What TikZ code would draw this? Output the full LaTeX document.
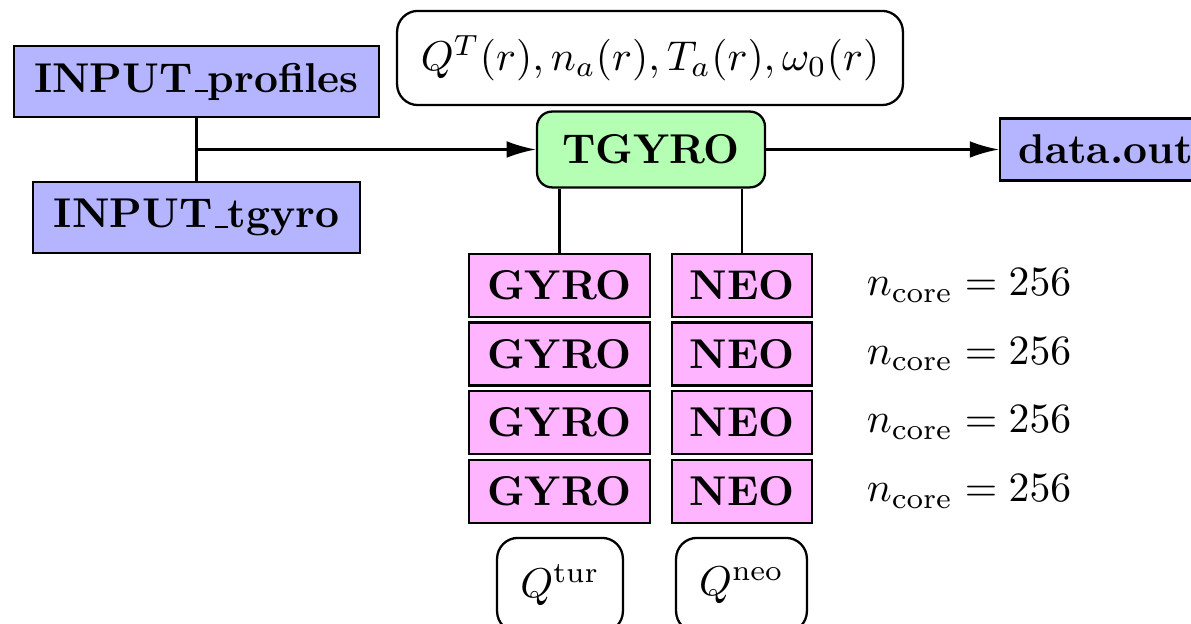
\documentclass[tikz,border=0pt]{standalone}
\usetikzlibrary{arrows.meta}
\newcommand\usc{\leavevmode\kern.06em\vbox{\hrule width.3em height .5pt}}
\definecolor{inblue}{RGB}{180,180,255}
\definecolor{tgreen}{RGB}{180,255,180}
\definecolor{cpink}{RGB}{255,180,255}
\begin{document}
\begin{tikzpicture}[x=0.24pt,y=-0.24pt,
  base/.style={draw, line width=0.55pt, inner sep=0pt},
  filebox/.style={base, fill=inblue, font=\bfseries},
  codebox/.style={base, fill=cpink, font=\bfseries, minimum height=15.1pt},
  roundbox/.style={base, rounded corners=5pt},
  conn/.style={line width=0.55pt},
  arr/.style={conn, -{Latex[length=7pt,width=4pt]}}]
\useasboundingbox (0,0) rectangle (1191,624);
\clip (0,0) rectangle (1191,624);
% inputs
\node[filebox, minimum width=87.6pt, minimum height=17pt] (prof) at (196.5,81.5) {INPUT\usc profiles};
\node[filebox, minimum width=78.5pt, minimum height=17pt] (tgin) at (196.5,217.5) {INPUT\usc tgyro};
% formula
\node[roundbox, minimum width=121.4pt, minimum height=22.6pt] (form) at (650,58) {$Q^T(r), n_a(r), T_a(r), \omega_0(r)$};
% tgyro
\node[base, fill=tgreen, rounded corners=3.6pt, font=\bfseries, minimum width=54.7pt, minimum height=18.2pt] (tg) at (651,149.5) {TGYRO};
% output
\node[filebox, anchor=west, minimum width=50.6pt, minimum height=14.9pt] (out) at (999,149.5) {data.out};
% gyro / neo stacks
\foreach \i/\y in {1/285.5,2/354,3/422.5,4/491.5}{
  \node[codebox, minimum width=43.4pt] (g\i) at (559.5,\y) {GYRO};
  \node[codebox, minimum width=33.6pt] (n\i) at (742,\y) {NEO};
  \node[anchor=west, inner sep=0pt] (c\i) at (866,\y) {$n_{\rm core} = 256$};
}
% results
\node[roundbox, minimum width=30.2pt, minimum height=22.6pt] (qt) at (560,585) {$Q^{\rm tur}$};
\node[roundbox, minimum width=31.4pt, minimum height=22.6pt] (qn) at (741.5,585) {$Q^{\rm neo}$};
% connectors
\draw[conn] (prof.south) -- (tgin.north);
\draw[arr] (prof.south |- tg.west) -- (tg.west);
\draw[arr] (tg.east) -- (out.west);
\draw[conn] (g1.north) -- (g1.north |- tg.south);
\draw[conn] (n1.north) -- (n1.north |- tg.south);
\end{tikzpicture}
\end{document}
